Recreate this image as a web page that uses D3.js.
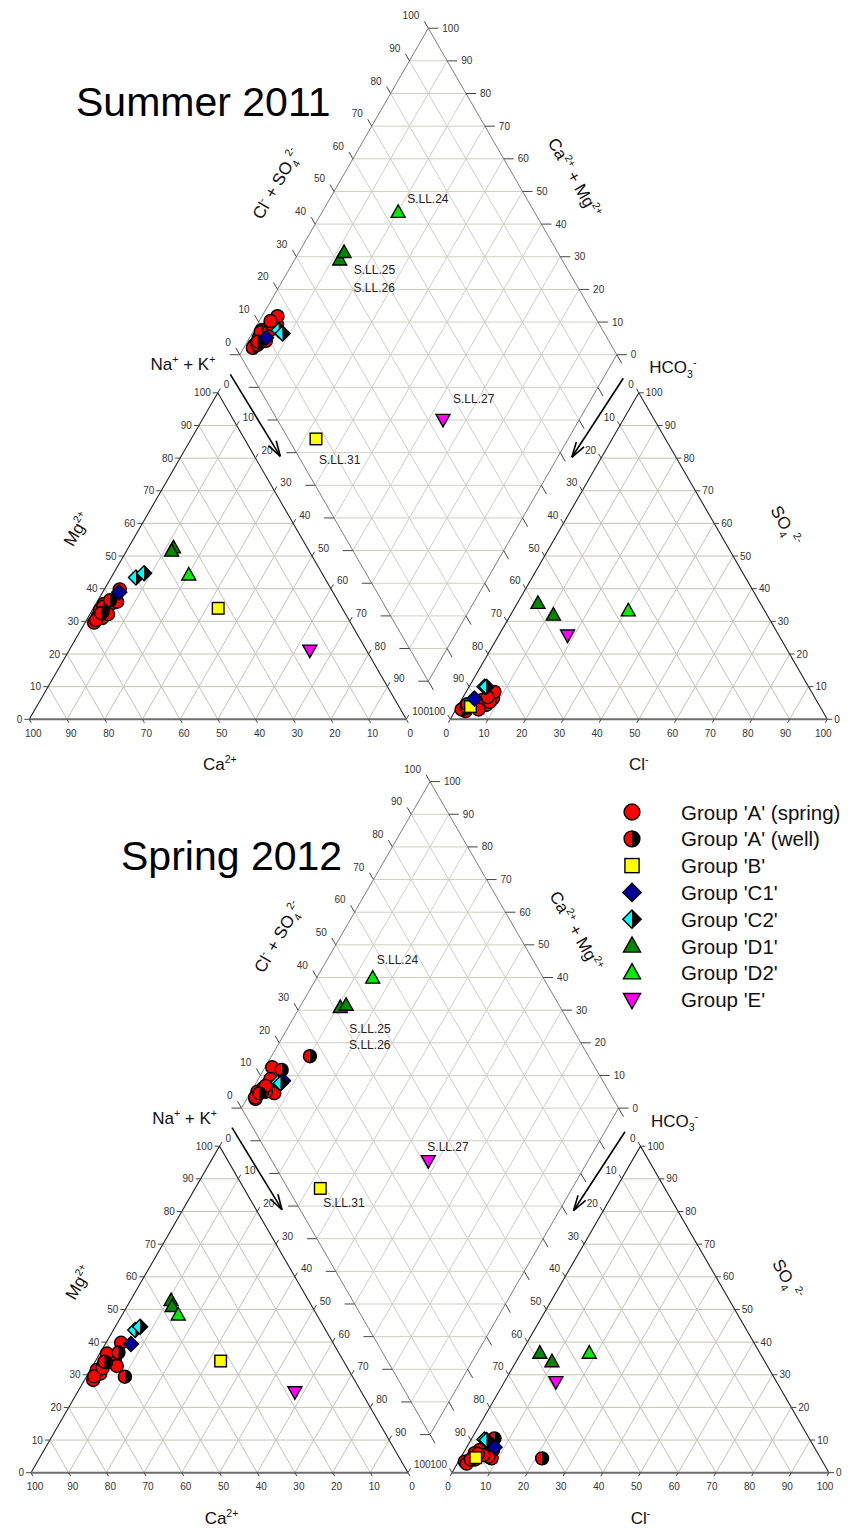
<!DOCTYPE html>
<html>
<head>
<meta charset="utf-8">
<script src="https://cdn.jsdelivr.net/npm/d3@7"></script>
<style>
  body { margin: 0; background: #fff; }
  svg text { font-family: Arial, "Liberation Sans", sans-serif; }
</style>
</head>
<body>
<svg id="chart" width="862" height="1528"></svg>
<script>
// ---- groups and legend ----
const groupKeys  = ["A", "Aw", "B", "C1", "C2", "D1", "D2", "E"];
const groupNames = ["Group 'A' (spring)", "Group 'A' (well)", "Group 'B'", "Group 'C1'",
                    "Group 'C2'", "Group 'D1'", "Group 'D2'", "Group 'E'"];
const tickValues = [0, 10, 20, 30, 40, 50, 60, 70, 80, 90, 100];

// ---- samples (meq %) : group, Ca, Mg, Na+K, HCO3, SO4, Cl, sample label ----
const summer2011 = [
  ["A", 68.0, 29.6, 2.4, 94.5, 3.4, 2.1, ""],
  ["A", 66.0, 31.6, 2.4, 92.4, 4.4, 3.2, ""],
  ["A", 64.5, 33.5, 2.0, 90.5, 4.0, 5.5, ""],
  ["A", 62.6, 35.3, 2.1, 91.0, 5.3, 3.7, ""],
  ["A", 61.8, 34.7, 3.5, 88.3, 4.4, 7.3, ""],
  ["A", 60.3, 35.6, 4.1, 88.6, 5.9, 5.5, ""],
  ["A", 58.7, 36.0, 5.3, 85.5, 6.4, 8.1, ""],
  ["A", 56.1, 39.8, 4.1, 84.1, 8.4, 7.5, ""],
  ["A", 65.2, 31.0, 3.8, 86.9, 5.3, 7.8, ""],
  ["A", 63.0, 32.2, 4.8, 91.0, 3.0, 6.0, ""],
  ["A", 67.1, 30.4, 2.5, 94.7, 2.5, 2.8, ""],
  ["A", 64.0, 33.0, 3.0, 86.7, 6.8, 6.5, ""],
  ["Aw", 63.1, 34.5, 2.4, 95.5, 3.0, 1.5, ""],
  ["Aw", 60.3, 36.5, 3.2, 93.8, 3.6, 2.6, ""],
  ["Aw", 64.7, 32.5, 2.8, 93.2, 4.6, 2.2, ""],
  ["B", 32.9, 34.0, 33.1, 92.7, 3.9, 3.4, "S.LL.31"],
  ["C1", 56.7, 38.9, 4.4, 90.4, 6.4, 3.2, ""],
  ["C2", 50.0, 43.4, 6.6, 85.9, 10.0, 4.1, ""],
  ["C2", 47.2, 44.7, 8.1, 85.4, 10.0, 4.6, ""],
  ["D1", 35.5, 52.5, 12.0, 59.0, 35.5, 5.5, "S.LL.25"],
  ["D1", 36.5, 51.5, 12.0, 56.7, 31.9, 11.4, "S.LL.26"],
  ["D2", 35.6, 44.2, 20.2, 36.2, 33.2, 30.6, "S.LL.24"],
  ["E", 15.0, 21.2, 63.8, 56.0, 25.8, 18.2, "S.LL.27"]
];

const spring2012 = [
  ["A", 69.3, 28.4, 2.3, 94.9, 3.4, 1.7, ""],
  ["A", 66.8, 31.5, 1.7, 93.3, 3.9, 2.8, ""],
  ["A", 64.3, 33.0, 2.7, 91.2, 5.4, 3.4, ""],
  ["A", 61.5, 35.1, 3.4, 89.1, 7.0, 3.9, ""],
  ["A", 60.5, 34.5, 5.0, 87.3, 4.4, 8.3, ""],
  ["A", 61.6, 36.5, 1.9, 85.6, 7.0, 7.4, ""],
  ["A", 66.5, 30.3, 3.2, 87.9, 4.9, 7.2, ""],
  ["A", 60.9, 32.7, 6.4, 89.0, 5.4, 5.6, ""],
  ["A", 56.2, 39.8, 4.0, 91.0, 6.0, 3.0, ""],
  ["A", 68.5, 29.5, 2.0, 94.7, 2.8, 2.5, ""],
  ["A", 65.0, 32.0, 3.0, 92.0, 4.0, 4.0, ""],
  ["A", 63.2, 33.8, 3.0, 90.2, 5.8, 4.0, ""],
  ["Aw", 60.4, 29.4, 10.2, 73.9, 4.4, 21.7, ""],
  ["Aw", 58.4, 36.8, 4.8, 83.5, 10.5, 6.0, ""],
  ["Aw", 63.5, 34.0, 2.5, 93.0, 4.0, 3.0, ""],
  ["B", 32.6, 34.2, 33.2, 91.4, 4.6, 4.0, "S.LL.31"],
  ["C1", 53.8, 39.4, 6.8, 84.8, 7.8, 7.4, ""],
  ["C2", 50.5, 43.7, 5.8, 86.3, 10.2, 3.5, ""],
  ["C2", 48.7, 44.7, 6.6, 85.8, 10.0, 4.2, ""],
  ["D1", 36.5, 52.7, 10.8, 58.4, 36.6, 5.0, "S.LL.25"],
  ["D1", 37.1, 50.9, 12.0, 56.5, 34.0, 9.5, "S.LL.26"],
  ["D2", 36.8, 48.3, 14.9, 45.3, 36.6, 18.1, "S.LL.24"],
  ["E", 17.6, 24.8, 57.6, 58.5, 27.9, 13.6, "S.LL.27"]
];

// ---- layout ----
const SIDE = 377;          // triangle / diamond side in px
const GAP = 44;            // gap between the two triangles
const SIN = Math.sqrt(3) / 2;
const COS = 0.5;

const svg = d3.select("#chart");

const fills = { A: "#ff0000", B: "#ffff00", C1: "#000099", D1: "#008a00", D2: "#00ee00", E: "#ff00ff" };

function drawMarker(g, key, x, y, k) {
  const m = g.append("g").attr("transform", `translate(${x},${y}) scale(${k})`);
  const sw = 1.4 / k;
  if (key === "A") {
    m.append("circle").attr("r", 6.5).attr("fill", fills.A).attr("stroke", "#000").attr("stroke-width", sw);
  } else if (key === "Aw") {
    const r = 6.5;
    m.append("path").attr("d", `M0,${-r}A${r},${r} 0 0 0 0,${r}Z`).attr("fill", "#ff0000");
    m.append("path").attr("d", `M0,${-r}A${r},${r} 0 0 1 0,${r}Z`).attr("fill", "#000");
    m.append("circle").attr("r", r).attr("fill", "none").attr("stroke", "#000").attr("stroke-width", sw);
  } else if (key === "B") {
    m.append("rect").attr("x", -5.8).attr("y", -5.8).attr("width", 11.6).attr("height", 11.6)
      .attr("fill", fills.B).attr("stroke", "#000").attr("stroke-width", sw);
  } else if (key === "C1") {
    const h = 7.5;
    m.append("path").attr("d", `M0,${-h}L${h},0L0,${h}L${-h},0Z`)
      .attr("fill", fills.C1).attr("stroke", "#000").attr("stroke-width", sw);
  } else if (key === "C2") {
    const h = 7.5;
    m.append("path").attr("d", `M0,${-h}L${-h},0L0,${h}Z`).attr("fill", "#00ffff");
    m.append("path").attr("d", `M0,${-h}L${h},0L0,${h}Z`).attr("fill", "#000");
    m.append("path").attr("d", `M0,${-h}L${h},0L0,${h}L${-h},0Z`)
      .attr("fill", "none").attr("stroke", "#000").attr("stroke-width", sw);
  } else if (key === "D1" || key === "D2") {
    m.append("path").attr("d", "M0,-7.5L7,5L-7,5Z")
      .attr("fill", fills[key]).attr("stroke", "#000").attr("stroke-width", sw).attr("stroke-linejoin", "miter");
  } else if (key === "E") {
    m.append("path").attr("d", "M0,7.5L7,-5L-7,-5Z")
      .attr("fill", fills.E).attr("stroke", "#000").attr("stroke-width", sw);
  }
}

// text with super/subscripts; parts = [[string, "sup"|"sub"|null], ...]
function rich(sel, parts, fs) {
  let shift = 0;
  parts.forEach(([t, kind]) => {
    const target = kind === "sup" ? -fs * 0.42 : kind === "sub" ? fs * 0.28 : 0;
    sel.append("tspan")
      .attr("dy", target - shift)
      .attr("font-size", kind ? fs * 0.62 : fs)
      .text(t);
    shift = target;
  });
}

function arrow(g, p0, p1) {
  g.append("line").attr("x1", p0[0]).attr("y1", p0[1]).attr("x2", p1[0]).attr("y2", p1[1])
    .attr("stroke", "#000").attr("stroke-width", 1.6);
  const ang = Math.atan2(p0[1] - p1[1], p0[0] - p1[0]);
  [-0.29, 0.29].forEach(da => {
    g.append("line").attr("x1", p1[0]).attr("y1", p1[1])
      .attr("x2", p1[0] + 16 * Math.cos(ang + da)).attr("y2", p1[1] + 16 * Math.sin(ang + da))
      .attr("stroke", "#000").attr("stroke-width", 1.6);
  });
}

function drawPiper(cfg) {
  const { x0, base, rows, labelOffsets } = cfg;
  const s = SIDE, gp = GAP;
  const pct = d3.scaleLinear().domain([0, 100]).range([0, s]);
  const x1 = x0 + s + gp;
  const cat = (na, mg) => [x0 + pct(na) + pct(mg) / 2, base - pct(mg) * SIN];
  const ani = (cl, so4) => [x1 + pct(cl) + pct(so4) / 2, base - pct(so4) * SIN];
  const Bt = [x0 + s + gp / 2, base - gp * SIN];
  const L = [Bt[0] - s / 2, Bt[1] - s * SIN];
  const dia = (a, c) => [L[0] + (pct(a) + pct(c)) / 2, L[1] + (pct(a) - pct(c)) * SIN];

  const g = svg.append("g");
  const gridT = g.append("g").attr("stroke", "#c4c2b8").attr("stroke-width", 1).attr("fill", "none");
  const gridD = g.append("g").attr("stroke", "#cfcec6").attr("stroke-width", 1).attr("fill", "none");
  const seg = (gg, a, b) => gg.append("line")
    .attr("x1", a[0]).attr("y1", a[1]).attr("x2", b[0]).attr("y2", b[1]);

  const inner = tickValues.filter(v => v > 0 && v < 100);
  inner.forEach(v => {
    // cation triangle
    seg(gridT, cat(0, v), cat(100 - v, v));
    seg(gridT, cat(v, 0), cat(v, 100 - v));
    seg(gridT, cat(100 - v, 0), cat(0, 100 - v));
    // anion triangle
    seg(gridT, ani(0, v), ani(100 - v, v));
    seg(gridT, ani(v, 0), ani(v, 100 - v));
    seg(gridT, ani(100 - v, 0), ani(0, 100 - v));
    // diamond
    seg(gridD, dia(0, v), dia(100, v));
    seg(gridD, dia(v, 0), dia(v, 100));
  });
  d3.range(-90, 100, 10).forEach(d => {
    if (d >= 0) seg(gridD, dia(d, 0), dia(100, 100 - d));
    else seg(gridD, dia(0, -d), dia(100 + d, 100));
  });

  // outlines
  const outline = g.append("g").attr("fill", "none");
  const poly = pts => "M" + pts.map(p => p.join(",")).join("L") + "Z";
  outline.append("path").attr("d", poly([dia(0, 0), dia(0, 100), dia(100, 100), dia(100, 0)]))
    .attr("stroke", "#7e7e7e").attr("stroke-width", 1);
  const tris = [[cat(100, 0), cat(0, 0), cat(0, 100)], [ani(0, 0), ani(100, 0), ani(0, 100)]];
  tris.forEach(t => {
    outline.append("path").attr("d", `M${t[1]}L${t[2]}L${t[0]}`).attr("stroke", "#222").attr("stroke-width", 1.1);
    outline.append("line").attr("x1", t[0][0]).attr("y1", t[0][1]).attr("x2", t[1][0]).attr("y2", t[1][1])
      .attr("stroke", "#6e6e6e").attr("stroke-width", 2);
  });

  // ticks and tick labels
  const tk = g.append("g").attr("stroke", "#444").attr("stroke-width", 1);
  const tl = g.append("g").attr("font-size", 10).attr("fill", "#333");
  const tick = (p, dx, dy, len) => tk.append("line")
    .attr("x1", p[0]).attr("y1", p[1]).attr("x2", p[0] + dx * len).attr("y2", p[1] + dy * len);
  const lab = (x, y, txt, anchor) => tl.append("text").attr("x", x).attr("y", y)
    .attr("text-anchor", anchor).text(txt);

  tickValues.forEach(v => {
    // Ca2+ along cation base (100 at left)
    let p = cat(100 - v, 0);
    tick(p, COS, SIN, 4); lab(p[0] + 4, base + 17.5, v, "middle");
    // Mg2+ along left side
    p = cat(0, v);
    tick(p, -1, 0, 5); lab(p[0] - 7, p[1] + 3.5, v, "end");
    // Na+ + K+ along right side
    p = cat(v, 100 - v);
    tick(p, COS, -SIN, 5); lab(p[0] + 6, p[1] - 4.5, v, "start");

    // Cl- along anion base
    p = ani(v, 0);
    tick(p, -COS, SIN, 4); lab(p[0] - 4, base + 17.5, v, "middle");
    // HCO3- along left side (0 at top)
    p = ani(0, 100 - v);
    tick(p, -COS, -SIN, 5); lab(p[0] - 5, p[1] - 4.5, v, "end");
    // SO4 2- along right side
    p = ani(100 - v, v);
    tick(p, 1, 0, 5); lab(p[0] + 7, p[1] + 3.5, v, "start");

    // diamond: Cl- + SO4 2- on upper-left edge
    p = dia(0, v);
    tick(p, -COS, -SIN, 8); lab(p[0] - 9, p[1] - 9, v, "end");
    // diamond: Ca2+ + Mg2+ on upper-right edge
    p = dia(100 - v, 100);
    tick(p, 1, 0, 10); lab(p[0] + 14, p[1] + 3.5, v, "start");
    // diamond: lower edges carry ticks only
    tick(dia(v, 0), -1, 0, 10);
    tick(dia(100, v), COS, SIN, 10);
  });

  // axis titles
  const at = g.append("g").attr("fill", "#111");
  const fs = 17;
  const caT = at.append("text").attr("x", x0 + s / 2 + 2).attr("y", base + 51).attr("text-anchor", "middle");
  rich(caT, [["Ca", null], ["2+", "sup"]], fs);
  const clT = at.append("text").attr("x", x1 + s / 2).attr("y", base + 51).attr("text-anchor", "middle");
  rich(clT, [["Cl", null], ["-", "sup"]], fs);

  const midMg = [x0 + s / 4 - 48 * SIN, base - s * SIN / 2 - 48 * 0.5];
  const mgT = at.append("text").attr("transform", `translate(${midMg[0]},${midMg[1]}) rotate(-60)`)
    .attr("text-anchor", "middle").attr("dy", 6);
  rich(mgT, [["Mg", null], ["2+", "sup"]], fs);

  const midSo = [x1 + 3 * s / 4 + 55 * SIN, base - s * SIN / 2 - 55 * 0.5];
  const soT = at.append("text").attr("transform", `translate(${midSo[0]},${midSo[1]}) rotate(60)`)
    .attr("text-anchor", "middle").attr("dy", 6);
  rich(soT, [["SO", null], ["4", "sub"], [" 2-", "sup"]], fs);

  const naT = at.append("text").attr("x", x0 + 186).attr("y", base - 349).attr("text-anchor", "end");
  rich(naT, [["Na", null], ["+", "sup"], [" + K", null], ["+", "sup"]], fs);

  const hcT = at.append("text").attr("x", x1 + 199).attr("y", base - 346).attr("text-anchor", "start");
  rich(hcT, [["HCO", null], ["3", "sub"], ["-", "sup"]], fs);

  // diamond edge titles
  const T = dia(0, 100), R = dia(100, 100);
  const mUL = [(L[0] + T[0]) / 2, (L[1] + T[1]) / 2];
  const pUL = [mUL[0] - 22 * COS - 48 * SIN, mUL[1] + 22 * SIN - 48 * 0.5];
  const ulT = at.append("text").attr("transform", `translate(${pUL[0]},${pUL[1]}) rotate(-60)`)
    .attr("text-anchor", "middle").attr("dy", 6);
  rich(ulT, [["Cl", null], ["-", "sup"], [" + SO", null], ["4", "sub"], ["2-", "sup"]], fs);

  const mUR = [(T[0] + R[0]) / 2, (T[1] + R[1]) / 2];
  const pUR = [mUR[0] + 14 * COS + 46 * SIN, mUR[1] + 14 * SIN - 46 * 0.5];
  const urT = at.append("text").attr("transform", `translate(${pUR[0]},${pUR[1]}) rotate(60)`)
    .attr("text-anchor", "middle").attr("dy", 6);
  rich(urT, [["Ca", null], ["2+", "sup"], [" + Mg", null], ["2+", "sup"]], fs);

  // direction arrows
  arrow(g, [x0 + 201, base - 345], [x0 + 251, base - 263]);
  arrow(g, [x1 + 173, base - 341], [x1 + 121.5, base - 262]);

  // title
  g.append("text").attr("x", cfg.titleX).attr("y", cfg.titleY)
    .attr("font-size", 41).attr("fill", "#000").text(cfg.title);

  // samples
  const pts = g.append("g");
  const samples = rows.map(r => ({ key: r[0], ca: r[1], mg: r[2], na: r[3], hco3: r[4], so4: r[5], cl: r[6], label: r[7] }));
  samples.forEach(d => {
    const pc = cat(d.na, d.mg);
    drawMarker(pts, d.key, pc[0], pc[1], 1);
  });
  samples.forEach(d => {
    const pa = ani(d.cl, d.so4);
    drawMarker(pts, d.key, pa[0], pa[1], 1);
  });
  samples.forEach(d => {
    const pd = dia(d.na, d.cl + d.so4);
    drawMarker(pts, d.key, pd[0], pd[1], 1);
  });

  // sample labels next to the diamond points
  const lg = g.append("g").attr("font-size", 12).attr("fill", "#222");
  samples.filter(d => d.label).forEach(d => {
    const pd = dia(d.na, d.cl + d.so4);
    const off = labelOffsets[d.label];
    lg.append("text").attr("x", pd[0] + off[0]).attr("y", pd[1] + off[1]).attr("dy", "0.35em").text(d.label);
  });
}

drawPiper({
  x0: 29.3, base: 719.3, rows: summer2011,
  title: "Summer 2011", titleX: 76, titleY: 116,
  labelOffsets: { "S.LL.24": [9, -14], "S.LL.25": [14, 10], "S.LL.26": [9.5, 35], "S.LL.27": [10, -21], "S.LL.31": [3, 21] }
});

drawPiper({
  x0: 31, base: 1472.7, rows: spring2012,
  title: "Spring 2012", titleX: 121, titleY: 870,
  labelOffsets: { "S.LL.24": [4, -18], "S.LL.25": [9, 21], "S.LL.26": [3, 40], "S.LL.27": [-1, -14], "S.LL.31": [3, 14] }
});

// legend
const legend = svg.append("g");
groupKeys.forEach((k, i) => {
  const y = 812 + i * 26.8;
  drawMarker(legend, k, 632, y, 1.22);
  legend.append("text").attr("x", 681).attr("y", y + 7.5)
    .attr("font-size", 20.5).attr("fill", "#111").text(groupNames[i]);
});
</script>
</body>
</html>
